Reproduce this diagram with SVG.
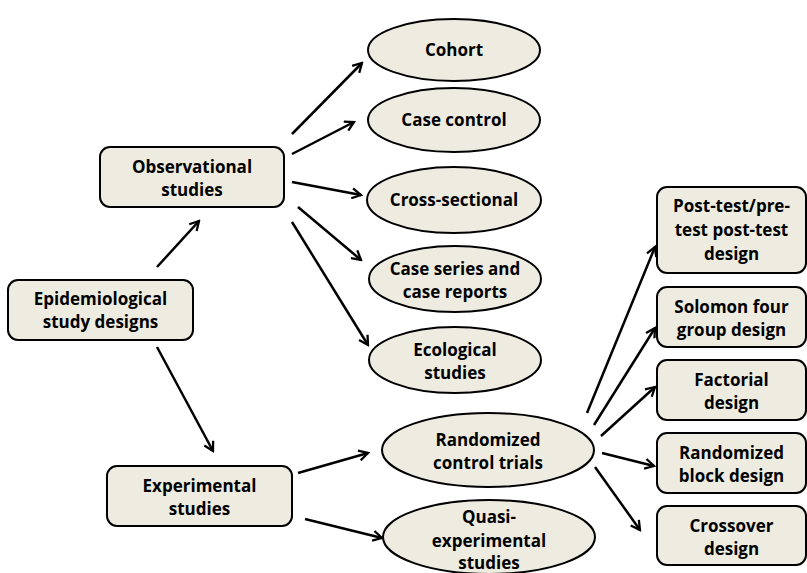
<svg xmlns="http://www.w3.org/2000/svg" width="807" height="573" viewBox="0 0 807 573">
<defs>
<style>
.n{fill:#EEECE1;stroke:#000;stroke-width:2}
.t{font-family:"Open Sans","Liberation Sans",sans-serif;font-weight:bold;font-size:17px;fill:#000;text-anchor:middle}
.c line{stroke:#000;stroke-width:2.5}
</style>
<marker id="a" viewBox="0 0 12 12" refX="10" refY="6" markerWidth="12" markerHeight="12" markerUnits="userSpaceOnUse" orient="auto">
<path d="M1,1 L10,6 L1,11" fill="none" stroke="#000" stroke-width="2.3"/>
</marker>
</defs>
<rect width="807" height="573" fill="#fff"/>
<g class="c" marker-end="url(#a)">
<line x1="157" y1="267" x2="199" y2="221" marker-end="url(#a)"/>
<line x1="157" y1="347" x2="213" y2="451" marker-end="url(#a)"/>
<line x1="292" y1="134" x2="362" y2="63" marker-end="url(#a)"/>
<line x1="292" y1="154" x2="354" y2="122" marker-end="url(#a)"/>
<line x1="292" y1="182" x2="361" y2="195" marker-end="url(#a)"/>
<line x1="298" y1="207" x2="361" y2="260" marker-end="url(#a)"/>
<line x1="292" y1="222" x2="368" y2="345" marker-end="url(#a)"/>
<line x1="298" y1="473" x2="368" y2="453" marker-end="url(#a)"/>
<line x1="305" y1="519" x2="382" y2="538" marker-end="url(#a)"/>
<line x1="587" y1="413" x2="655" y2="247" marker-end="url(#a)"/>
<line x1="594" y1="425" x2="655" y2="328" marker-end="url(#a)"/>
<line x1="601" y1="436" x2="655" y2="387" marker-end="url(#a)"/>
<line x1="602" y1="453" x2="654" y2="466" marker-end="url(#a)"/>
<line x1="595" y1="467" x2="640" y2="530" marker-end="url(#a)"/>
</g>
<g id="epi"><rect class="n" x="8" y="280" width="185" height="60" rx="10"/>
<text class="t" x="100.5" y="305">Epidemiological</text><text class="t" x="100.5" y="328">study designs</text></g>
<g id="obs"><rect class="n" x="100" y="147" width="184" height="60" rx="10"/>
<text class="t" x="192" y="173">Observational</text><text class="t" x="192" y="196">studies</text></g>
<g id="exp"><rect class="n" x="107" y="466" width="185" height="60" rx="10"/>
<text class="t" x="199.5" y="492">Experimental</text><text class="t" x="199.5" y="515">studies</text></g>
<g id="cohort"><ellipse class="n" cx="454" cy="50" rx="86" ry="31"/>
<text class="t" x="454" y="56">Cohort</text></g>
<g id="casecontrol"><ellipse class="n" cx="454" cy="120" rx="86" ry="32"/>
<text class="t" x="454" y="126">Case control</text></g>
<g id="cross"><ellipse class="n" cx="454" cy="200" rx="87" ry="33"/>
<text class="t" x="454" y="206">Cross-sectional</text></g>
<g id="caseseries"><ellipse class="n" cx="455" cy="279" rx="86" ry="33"/>
<text class="t" x="455" y="275">Case series and</text><text class="t" x="455" y="298">case reports</text></g>
<g id="eco"><ellipse class="n" cx="455" cy="360" rx="86" ry="33"/>
<text class="t" x="455" y="356">Ecological</text><text class="t" x="455" y="379">studies</text></g>
<g id="rct"><ellipse class="n" cx="488" cy="450" rx="106" ry="37"/>
<text class="t" x="488" y="446">Randomized</text><text class="t" x="488" y="469">control trials</text></g>
<g id="quasi"><ellipse class="n" cx="489" cy="537" rx="106" ry="37"/>
<text class="t" x="489" y="523">Quasi-</text><text class="t" x="489" y="547">experimental</text><text class="t" x="489" y="569">studies</text></g>
<g id="posttest"><rect class="n" x="657" y="187" width="149" height="86" rx="10"/>
<text class="t" x="731.5" y="212">Post-test/pre-</text><text class="t" x="731.5" y="236">test post-test</text><text class="t" x="731.5" y="260">design</text></g>
<g id="solomon"><rect class="n" x="657" y="287" width="149" height="60" rx="10"/>
<text class="t" x="731.5" y="313">Solomon four</text><text class="t" x="731.5" y="336">group design</text></g>
<g id="factorial"><rect class="n" x="657" y="360" width="149" height="60" rx="10"/>
<text class="t" x="731.5" y="386">Factorial</text><text class="t" x="731.5" y="409">design</text></g>
<g id="block"><rect class="n" x="657" y="433" width="149" height="60" rx="10"/>
<text class="t" x="731.5" y="459">Randomized</text><text class="t" x="731.5" y="482">block design</text></g>
<g id="crossover"><rect class="n" x="657" y="506" width="149" height="59" rx="10"/>
<text class="t" x="731.5" y="532">Crossover</text><text class="t" x="731.5" y="555">design</text></g>
</svg>
